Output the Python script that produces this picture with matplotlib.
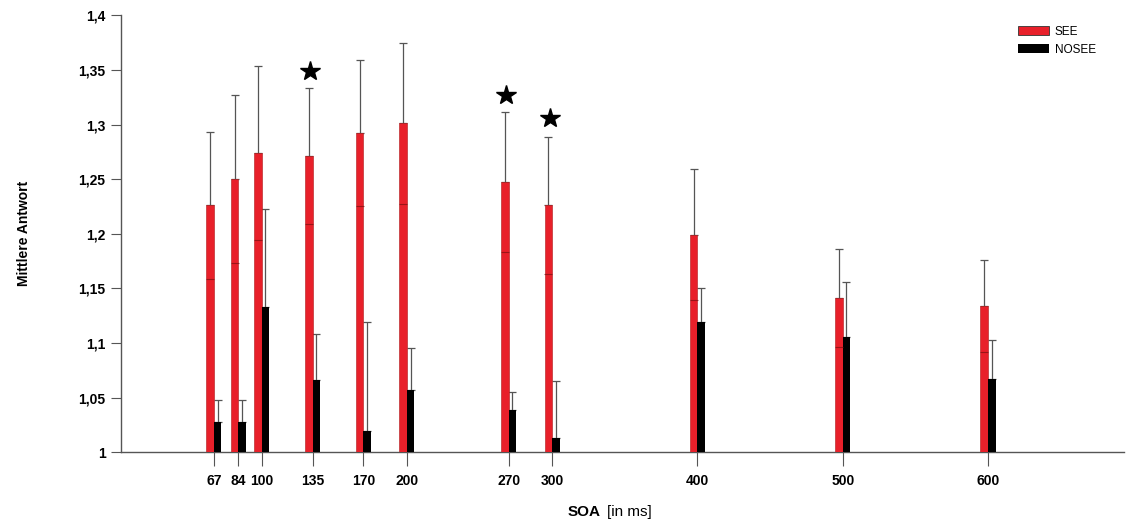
import numpy as np
import matplotlib.pyplot as plt
from matplotlib.patches import Patch

# SOA conditions (ms) and mean responses
soa = [67, 84, 100, 135, 170, 200, 270, 300, 400, 500, 600]
see = [1.226, 1.250, 1.274, 1.271, 1.292, 1.301, 1.247, 1.226, 1.199, 1.141, 1.134]
see_top = [1.293, 1.327, 1.354, 1.333, 1.359, 1.375, 1.311, 1.289, 1.259, 1.186, 1.176]
nosee = [1.028, 1.028, 1.133, 1.066, 1.019, 1.057, 1.039, 1.013, 1.119, 1.105, 1.067]
nosee_top = [1.048, 1.048, 1.223, 1.108, 1.119, 1.095, 1.055, 1.065, 1.150, 1.156, 1.103]
star_soa = [135, 270, 300]
star_y = [1.349, 1.327, 1.306]
y_ticks = [1, 1.05, 1.1, 1.15, 1.2, 1.25, 1.3, 1.35, 1.4]
y_labels = ['1', '1,05', '1,1', '1,15', '1,2', '1,25', '1,3', '1,35', '1,4']

plt.rcParams['font.family'] = ['Liberation Sans', 'DejaVu Sans']

fig = plt.figure(figsize=(11.29, 5.27), dpi=100)
ax = fig.add_axes([0.107, 0.142, 0.889, 0.829])

x = np.array(soa, dtype=float)
see = np.array(see)
nosee = np.array(nosee)
see_err = np.array(see_top) - see
nosee_err = np.array(nosee_top) - nosee
w = 5.2
red = '#e8202a'

ax.bar(x - w / 2, see - 1, w, bottom=1, color=red, edgecolor='#b01818', linewidth=0.4, zorder=3)
ax.bar(x + w / 2, nosee - 1, w, bottom=1, color='black', zorder=3)

ax.errorbar(x - w / 2, see, yerr=[np.zeros_like(see), see_err], fmt='none',
            ecolor='#555555', elinewidth=0.9, capsize=3, capthick=0.9, zorder=2)
ax.errorbar(x + w / 2, nosee, yerr=[np.zeros_like(nosee), nosee_err], fmt='none',
            ecolor='#555555', elinewidth=0.9, capsize=3, capthick=0.9, zorder=2)
# faint lower caps visible inside the red bars
ax.plot(x - w / 2, see - see_err, ls='none', marker='_', ms=6, mew=0.8,
        color='#7a1010', alpha=0.7, zorder=4)

ax.plot(np.array(star_soa) - 1.5, star_y, ls='none', marker='*', ms=15, color='black', zorder=5)

ax.set_xlim(3, 694)
ax.set_ylim(1, 1.4)
ax.set_xticks(soa)
ax.set_xticklabels([str(s) for s in soa], fontsize=10, fontweight='bold')
ax.set_yticks(y_ticks)
ax.set_yticklabels(y_labels, fontsize=10, fontweight='bold')
ax.tick_params(axis='x', length=10, width=0.8, color='#555555', pad=6)
ax.tick_params(axis='y', length=7, width=0.8, color='#555555', pad=4)

for side in ['top', 'right']:
    ax.spines[side].set_visible(False)
for side in ['left', 'bottom']:
    ax.spines[side].set_color('#555555')
    ax.spines[side].set_linewidth(1.0)

ax.set_ylabel('Mittlere Antwort', fontsize=10, fontweight='bold', labelpad=34)
fig.text(0.532, 0.028, 'SOA', fontsize=11, fontweight='bold', ha='right', va='center')
fig.text(0.538, 0.028, '[in ms]', fontsize=11, ha='left', va='center')

handles = [Patch(facecolor=red, edgecolor='#333333', linewidth=0.6, label='SEE'),
           Patch(facecolor='black', label='NOSEE')]
ax.legend(handles=handles, loc='upper right', bbox_to_anchor=(0.982, 1.0), frameon=False,
          fontsize=8.5, handlelength=2.6, handleheight=0.8, labelspacing=0.5, handletextpad=0.5)

fig.savefig('out.png', dpi=100)
